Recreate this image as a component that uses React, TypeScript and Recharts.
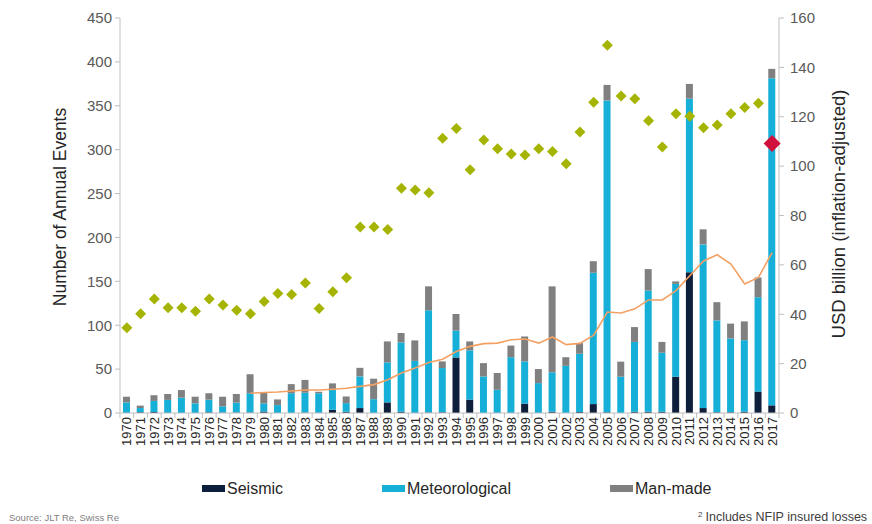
import { ComposedChart, Bar, Line, XAxis, YAxis } from "recharts";

const years = [
  "1970", "1971", "1972", "1973", "1974", "1975", "1976", "1977", "1978", "1979",
  "1980", "1981", "1982", "1983", "1984", "1985", "1986", "1987", "1988", "1989",
  "1990", "1991", "1992", "1993", "1994", "1995", "1996", "1997", "1998", "1999",
  "2000", "2001", "2002", "2003", "2004", "2005", "2006", "2007", "2008", "2009",
  "2010", "2011", "2012", "2013", "2014", "2015", "2016", "2017",
];

// insured losses, USD bn (right axis)
const seismic = [
  0, 0.3, 0.4, 0, 0, 0, 0.3, 0.2, 0.2, 0.2,
  0.6, 0, 0, 0.2, 0, 1.3, 0.5, 2.0, 0, 4.3,
  0.5, 0, 0.2, 0.3, 22.5, 5.4, 0, 0, 0, 3.8,
  0, 0.5, 0, 0.4, 3.6, 0.3, 0, 0.5, 0.5, 0.5,
  14.7, 57.0, 2.0, 0.3, 0.3, 0.5, 8.7, 3.1,
];
const meteorological = [
  4.3, 1.7, 4.5, 5.3, 6.2, 3.9, 5.1, 2.5, 4.0, 7.8,
  3.3, 3.2, 8.0, 8.0, 8.0, 8.0, 3.5, 12.8, 5.6, 16.2,
  28.1, 21.1, 41.4, 17.9, 10.9, 20.0, 14.8, 9.4, 22.6, 17.1,
  12.1, 16.0, 19.1, 23.6, 53.2, 126.3, 14.7, 28.3, 49.1, 23.9,
  37.6, 70.3, 66.3, 37.2, 29.9, 29.0, 38.2, 132.5,
];
const manMade = [
  2.3, 1.0, 2.3, 2.4, 3.1, 2.7, 2.6, 3.9, 3.5, 7.7,
  4.3, 2.3, 3.7, 5.2, 0.6, 2.7, 2.7, 3.5, 8.3, 8.5,
  3.8, 8.3, 9.7, 2.7, 6.7, 3.6, 5.4, 6.8, 4.7, 10.1,
  5.7, 34.8, 3.5, 4.3, 4.7, 6.3, 6.1, 6.0, 8.7, 4.4,
  1.0, 6.0, 6.1, 7.4, 6.0, 7.6, 8.0, 3.8,
];
// 10-year moving average of losses
const movingAvg = [
  null, null, null, null, null, null, null, null, null, 8.0,
  8.3, 8.5, 8.9, 9.3, 9.3, 9.6, 10.0, 10.8, 11.5, 13.5,
  16.2, 18.2, 20.5, 21.8, 24.9, 27.0, 28.1, 28.3, 29.7, 30.0,
  28.3, 30.8, 27.7, 28.2, 31.5, 40.9, 40.5, 42.2, 45.8, 45.8,
  49.6, 55.6, 61.6, 64.1, 60.3, 52.3, 54.9, 65.0,
];
// number of annual events (left axis)
const events = [
  97, 113, 130, 120, 120, 116, 130, 123, 117, 113,
  127, 136, 135, 148, 119, 138, 154, 212, 212, 209,
  256, 254, 251, 313, 324, 277, 311, 301, 295, 294,
  301, 298, 284, 320, 354, 419, 361, 358, 333, 303,
  341, 338, 325, 328, 341, 348, 353, null,
];
const eventsLatest = [
  null, null, null, null, null, null, null, null, null, null,
  null, null, null, null, null, null, null, null, null, null,
  null, null, null, null, null, null, null, null, null, null,
  null, null, null, null, null, null, null, null, null, null,
  null, null, null, null, null, null, null, 307,
];

const leftTicks = [0, 50, 100, 150, 200, 250, 300, 350, 400, 450];
const rightTicks = [0, 20, 40, 60, 80, 100, 120, 140, 160];

const data = years.map((year, i) => ({
  year,
  seismic: seismic[i],
  meteorological: meteorological[i],
  manMade: manMade[i],
  avg: movingAvg[i],
  events: events[i],
  latest: eventsLatest[i],
}));

const FONT = "'Liberation Sans', Arial, sans-serif";
const AXIS = "#bfbfbf";
const GREEN = "#a5b400";
const RED = "#d0103a";
const NAVY = "#0e1f3b";
const BLUE = "#15afd8";
const GRAY = "#808080";

function diamond(r: number, color: string) {
  return (props: any) => {
    const { cx, cy, value, index } = props;
    if (value == null || cx == null || cy == null) return <g key={`d-${index}`} />;
    return (
      <path
        key={`d-${index}`}
        d={`M${cx},${cy - r}L${cx + r},${cy}L${cx},${cy + r}L${cx - r},${cy}Z`}
        fill={color}
      />
    );
  };
}

function YearTick(props: any) {
  const { x, y, payload, index } = props;
  const half = 6.87;
  return (
    <g>
      <line x1={x - half} x2={x - half} y1={y - 4} y2={y + 1} stroke={AXIS} />
      {index === years.length - 1 && (
        <line x1={x + half} x2={x + half} y1={y - 4} y2={y + 1} stroke={AXIS} />
      )}
      <text
        x={x}
        y={y}
        transform={`rotate(-90, ${x}, ${y})`}
        textAnchor="end"
        dominantBaseline="central"
        fontSize={13}
        fill="#262626"
        fontFamily={FONT}
      >
        {payload.value}
      </text>
    </g>
  );
}

const legendItems = [
  { label: "Seismic", color: NAVY, x: 202 },
  { label: "Meteorological", color: BLUE, x: 382 },
  { label: "Man-made", color: GRAY, x: 610 },
];

export default function App() {
  return (
    <div
      style={{
        position: "fixed",
        left: 0,
        top: 0,
        width: 872,
        height: 524,
        background: "#fff",
        fontFamily: FONT,
      }}
    >
      <ComposedChart
        width={872}
        height={462}
        data={data}
        margin={{ top: 18, right: 0, bottom: 0, left: 0 }}
        barSize={7}
      >
        <XAxis
          dataKey="year"
          interval={0}
          tickLine={false}
          tickSize={0}
          tickMargin={4}
          height={49}
          axisLine={{ stroke: AXIS }}
          tick={<YearTick />}
        />
        <YAxis
          yAxisId="left"
          orientation="left"
          width={120}
          domain={[0, 450]}
          ticks={leftTicks}
          interval={0}
          tickSize={5}
          tickMargin={3}
          axisLine={{ stroke: AXIS }}
          tickLine={{ stroke: AXIS }}
          tick={{ fontSize: 15, fill: "#595959", fontFamily: FONT }}
        />
        <YAxis
          yAxisId="right"
          orientation="right"
          width={93}
          domain={[0, 160]}
          ticks={rightTicks}
          interval={0}
          tickSize={5}
          tickMargin={6}
          axisLine={{ stroke: AXIS }}
          tickLine={{ stroke: AXIS }}
          tick={{ fontSize: 15, fill: "#595959", fontFamily: FONT }}
        />
        <Bar yAxisId="right" dataKey="seismic" stackId="loss" fill={NAVY} isAnimationActive={false} />
        <Bar yAxisId="right" dataKey="meteorological" stackId="loss" fill={BLUE} isAnimationActive={false} />
        <Bar yAxisId="right" dataKey="manMade" stackId="loss" fill={GRAY} isAnimationActive={false} />
        <Line
          yAxisId="right"
          dataKey="avg"
          type="linear"
          stroke="#f4a062"
          strokeWidth={1.6}
          dot={false}
          activeDot={false}
          isAnimationActive={false}
        />
        <Line
          yAxisId="left"
          dataKey="events"
          stroke="none"
          strokeWidth={0}
          dot={diamond(5.5, GREEN)}
          activeDot={false}
          isAnimationActive={false}
        />
        <Line
          yAxisId="left"
          dataKey="latest"
          stroke="none"
          strokeWidth={0}
          dot={diamond(8.5, RED)}
          activeDot={false}
          isAnimationActive={false}
        />
      </ComposedChart>

      <svg
        width={872}
        height={524}
        style={{ position: "absolute", left: 0, top: 0, pointerEvents: "none" }}
        fontFamily={FONT}
      >
        <text
          transform="translate(60, 207) rotate(-90)"
          textAnchor="middle"
          dominantBaseline="central"
          fontSize={17.5}
          fill="#262626"
        >
          Number of Annual Events
        </text>
        <text
          transform="translate(838, 214) rotate(-90)"
          textAnchor="middle"
          dominantBaseline="central"
          fontSize={18.5}
          fill="#262626"
        >
          USD billion (inflation-adjusted)
        </text>
        {legendItems.map((item) => (
          <g key={item.label}>
            <rect x={item.x} y={485} width={23} height={7} fill={item.color} />
            <text x={item.x + 25} y={488.5} dominantBaseline="central" fontSize={16} fill="#262626">
              {item.label}
            </text>
          </g>
        ))}
        <text x={9} y={517} dominantBaseline="central" fontSize={9.5} fill="#7f7f7f">
          Source: JLT Re, Swiss Re
        </text>
        <text x={698} y={517} dominantBaseline="central" fontSize={12.5} fill="#404040">
          <tspan fontSize={8} dy={-3}>2</tspan>
          <tspan dx={3} dy={3}>Includes NFIP insured losses</tspan>
        </text>
      </svg>
    </div>
  );
}
